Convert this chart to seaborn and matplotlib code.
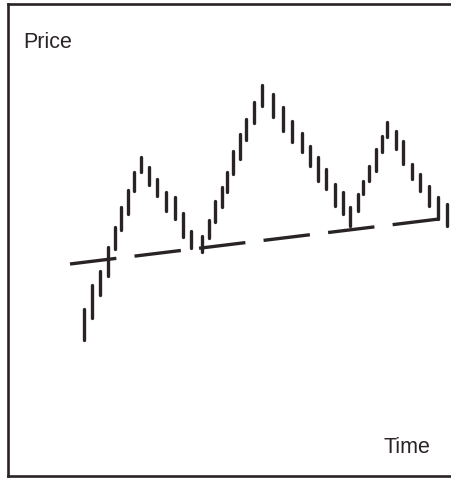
import numpy as np
import pandas as pd
import matplotlib
matplotlib.use('Agg')
import matplotlib.pyplot as plt
import seaborn as sns

# Bar chart data (time, high, low)
time = [84, 92, 100, 108, 115, 121, 128, 134, 141, 149, 157, 166, 175, 183, 191, 202,
        209, 215, 222, 227, 233, 240, 246, 254, 262, 273, 283, 292, 302, 310, 318, 326,
        335, 343, 350, 358, 363, 369, 376, 382, 387, 396, 403, 412, 420, 429, 438, 447]
high = [171, 195, 209, 233, 253, 273, 290, 308, 323, 313, 301, 288, 283, 267, 249, 244,
        260, 279, 293, 308, 329, 346, 361, 378, 395, 386, 373, 359, 347, 334, 323, 311,
        296, 288, 273, 286, 299, 314, 331, 344, 358, 349, 339, 316, 306, 294, 283, 276]
low = [140, 162, 185, 204, 231, 250, 266, 289, 308, 295, 284, 269, 261, 243, 232, 228,
       242, 258, 273, 288, 306, 321, 340, 357, 374, 363, 349, 338, 328, 314, 299, 291,
       274, 266, 254, 269, 286, 299, 309, 328, 343, 331, 316, 301, 289, 274, 261, 254]

# Neckline end points
neck_time = [70, 439]
neck_price = [216, 261]

ink = '#2a2326'

sns.set_style('white')
plt.rcParams['font.family'] = ['Liberation Sans', 'DejaVu Sans']

# long format: each bar is one unit with two points
bars = pd.DataFrame({
    'time': time + time,
    'price': high + low,
    'bar': list(range(len(time))) * 2,
})
neck = pd.DataFrame({'time': neck_time, 'price': neck_price})

fig = plt.figure(figsize=(4.51, 4.81), dpi=100)
ax = fig.add_axes([8 / 451, 4 / 481, 1 - 8 / 451, 472 / 481])

sns.lineplot(data=bars, x='time', y='price', units='bar', estimator=None,
             color=ink, lw=2.4, ax=ax, legend=False)
sns.lineplot(data=neck, x='time', y='price', color=ink, lw=2.4, ax=ax,
             legend=False, dashes=False, linestyle=(0, (14, 5.5)))

ax.set_xlim(8, 451)
ax.set_ylim(4, 476)
ax.set_xticks([])
ax.set_yticks([])
ax.set_xlabel('')
ax.set_ylabel('')
for side in ['left', 'top', 'bottom']:
    ax.spines[side].set_color(ink)
    ax.spines[side].set_linewidth(1.9)
ax.spines['right'].set_visible(False)

ax.text(23, 439, 'Price', fontsize=15.5, color=ink, ha='left', va='center')
ax.text(430, 33, 'Time', fontsize=15.5, color=ink, ha='right', va='center')

fig.savefig('out.png', dpi=100)
